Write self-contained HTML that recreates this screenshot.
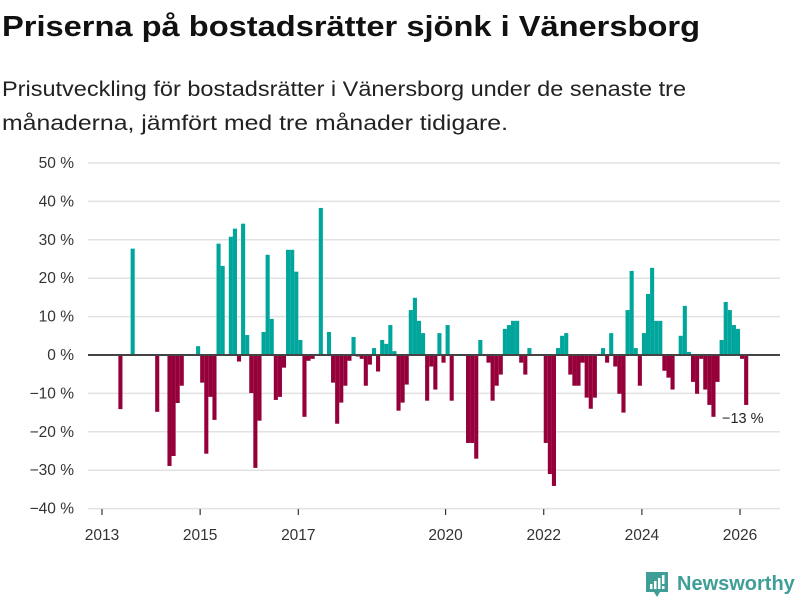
<!DOCTYPE html>
<html><head><meta charset="utf-8">
<style>
body{margin:0;background:#fff;width:800px;height:600px;overflow:hidden;font-family:"Liberation Sans",sans-serif;}
svg{position:absolute;left:0;top:0}
</style></head>
<body>
<svg width="800" height="150">
  <text x="2" y="36" font-size="29" font-weight="bold" fill="#111" textLength="698" lengthAdjust="spacingAndGlyphs" font-family="Liberation Sans, sans-serif">Priserna på bostadsrätter sjönk i Vänersborg</text>
  <text x="2" y="96" font-size="21" fill="#222" textLength="684" lengthAdjust="spacingAndGlyphs" font-family="Liberation Sans, sans-serif">Prisutveckling för bostadsrätter i Vänersborg under de senaste tre</text>
  <text x="2" y="130" font-size="21" fill="#222" textLength="506" lengthAdjust="spacingAndGlyphs" font-family="Liberation Sans, sans-serif">månaderna, jämfört med tre månader tidigare.</text>
</svg>
<svg id="chart" width="800" height="600"></svg>
<script>
// month index from Jan 2013
const months=[4,7,13,16,17,18,19,23,24,25,26,27,28,29,31,32,33,34,35,36,37,38,39,40,41,42,43,44,45,46,47,48,49,50,51,53,55,56,57,58,59,60,61,62,63,64,65,66,67,68,69,70,71,72,73,74,75,76,77,78,79,80,81,82,83,84,85,89,90,91,92,94,95,96,97,98,99,100,101,102,103,104,108,109,110,111,112,113,114,115,116,117,118,119,120,122,123,124,125,126,127,128,129,130,131,132,133,134,135,136,137,138,139,141,142,143,144,145,146,147,148,149,150,151,152,153,154,155,156,157];
const values=[-14.1,27.7,-14.8,-28.9,-26.3,-12.5,-8,2.3,-7.2,-25.7,-10.9,-16.9,29,23.2,30.8,32.9,-1.7,34.2,5.2,-9.9,-29.4,-17.1,6,26.1,9.4,-11.7,-10.9,-3.3,27.4,27.4,21.7,3.9,-16.1,-1.5,-1,38.3,6,-7.2,-17.9,-12.4,-8,-1.5,4.7,-0.4,-1,-8,-2.5,1.8,-4.3,3.9,2.9,7.8,1,-14.5,-12.4,-7.7,11.7,14.9,8.9,5.7,-11.9,-3,-9,5.7,-2,7.8,-11.9,-22.9,-22.9,-27,3.9,-2,-11.9,-8,-5.1,6.8,7.8,8.9,8.9,-2,-5.1,1.8,-22.9,-31,-34.1,1.8,5,5.7,-5.1,-8,-8,-2,-11.1,-14,-11.1,1.8,-2,5.7,-3,-10.1,-15,11.7,21.9,1.8,-8,5.7,15.9,22.7,8.9,8.9,-4.1,-5.9,-9,5,12.8,0.8,-7,-10.1,-1,-9,-13,-16.1,-7,3.9,13.8,11.7,7.8,6.8,-1,-13];
const yTicks=[50,40,30,20,10,0,-10,-20,-30,-40];
const xTicks=[2013,2015,2017,2020,2022,2024,2026];
const NS='http://www.w3.org/2000/svg';
const svg=document.getElementById('chart');
const x=m=>102+m*4.09;
const xYear=yr=>x((yr-2013)*12);
const y=v=>355-v*3.84;
function el(t,a){const e=document.createElementNS(NS,t);for(const k in a)e.setAttribute(k,a[k]);svg.appendChild(e);return e;}
yTicks.forEach(t=>{
  if(t!==0){const g=el('line',{x1:88,x2:780,y1:y(t),y2:y(t),stroke:'#e2e2e2','stroke-width':1.5});
  
  }
  const tx=el('text',{x:74,y:y(t)+5,'text-anchor':'end','font-size':15.5,fill:'#333','font-family':'Liberation Sans, sans-serif'});
  tx.textContent=(t<0?'\u2212'+(-t):t)+' %';
  
  
});
xTicks.forEach(yr=>{
  const l=el('line',{x1:xYear(yr),x2:xYear(yr),y1:509,y2:515,stroke:'#333','stroke-width':1.2});
  
  
  const tx=el('text',{x:xYear(yr),y:540,'text-anchor':'middle','font-size':15.5,fill:'#333','font-family':'Liberation Sans, sans-serif'});
  tx.textContent=yr;
  
  
});
months.forEach((m,i)=>{
  const v=values[i];
  const r=el('rect',{x:x(m),width:4.1,y:Math.min(y(v),y(0)),height:Math.abs(y(v)-y(0)),fill:v>=0?'#00a59b':'#95003b'});
  
  
});
const z=el('line',{x1:88,x2:780,y1:y(0),y2:y(0),stroke:'#444','stroke-width':2});


const lastV=values[values.length-1];
const an=el('text',{x:722,y:y(lastV)+18,'font-size':14.5,fill:'#222','font-family':'Liberation Sans, sans-serif'});
an.textContent='\u2212'+Math.round(-lastV)+' %';


</script>
<svg width="800" height="600" style="pointer-events:none">
  <path d="M646 572h22v20h-8l-3 5-3-5h-8z" fill="#3f9e96"/>
  <rect x="650" y="584" width="2.5" height="5" fill="#fff"/>
  <rect x="654" y="581" width="2.5" height="8" fill="#fff"/>
  <rect x="658" y="578" width="2.5" height="11" fill="#fff"/>
  <rect x="662" y="575" width="2.5" height="9" fill="#fff"/><rect x="662" y="586" width="2.5" height="3" fill="#fff"/>
  <text x="677" y="590" font-size="20" font-weight="bold" fill="#3f9e96" font-family="Liberation Sans, sans-serif">Newsworthy</text>
</svg>
</body></html>
